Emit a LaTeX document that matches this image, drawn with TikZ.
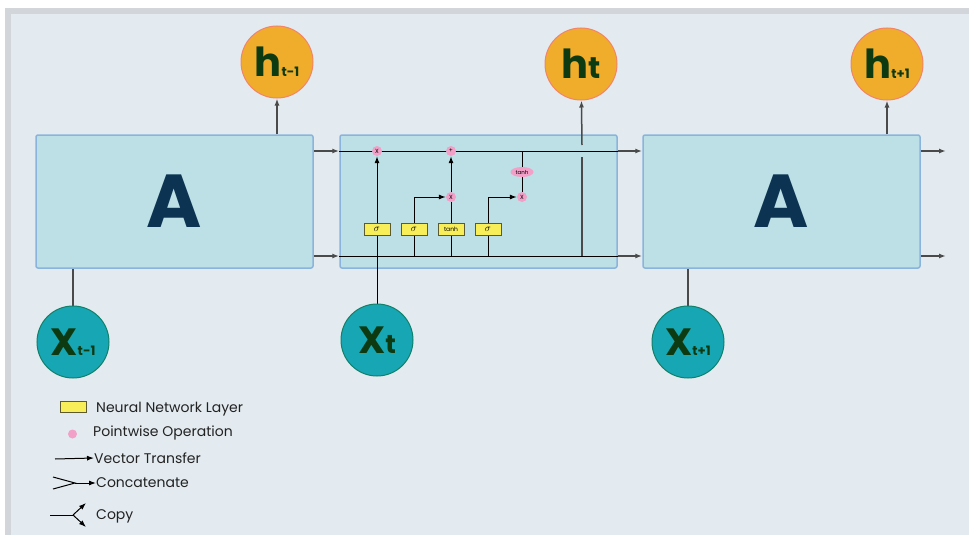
\documentclass[tikz,border=0pt]{standalone}
\usepackage{fontspec}
\setmainfont{Poppins}
\usetikzlibrary{arrows.meta,shapes.geometric}
\definecolor{frameback}{HTML}{E3EBF0}
\definecolor{framegray}{HTML}{D2D6DA}
\definecolor{cellfill}{HTML}{BCE0E6}
\definecolor{cellline}{HTML}{8AB4DC}
\definecolor{hfill}{HTML}{F0AD2C}
\definecolor{hline}{HTML}{F3846B}
\definecolor{xfill}{HTML}{17A6B4}
\definecolor{xline}{HTML}{12806A}
\definecolor{txtgreen}{HTML}{0E3A12}
\definecolor{txtnavy}{HTML}{0C3452}
\definecolor{pwfill}{HTML}{F3A0C8}
\definecolor{layerfill}{HTML}{F8EE5A}
\definecolor{layerline}{HTML}{5E5A30}
\definecolor{linkgray}{HTML}{4A4A4A}
\definecolor{legtxt}{HTML}{222222}
\pgfdeclarelayer{back}
\pgfdeclarelayer{wires}
\pgfsetlayers{back,wires,main}
\tikzset{>={Latex[length=7pt,width=5pt]},
  cellbox/.style={draw=cellline, fill=cellfill, line width=1.5pt, rounded corners=2pt, minimum width=277pt, minimum height=133pt, inner sep=0pt},
  hcirc/.style={circle, draw=hline, fill=hfill, line width=1pt, minimum size=72pt, inner sep=0pt, text=txtgreen, font=\bfseries},
  xcirc/.style={circle, draw=xline, fill=xfill, line width=1pt, minimum size=72pt, inner sep=0pt, text=txtgreen, font=\bfseries},
  nnlayer/.style={draw=layerline, fill=layerfill, line width=0.6pt, minimum width=26pt, minimum height=12pt, inner sep=0pt, font=\fontsize{6}{6}\selectfont},
  siglayer/.style={nnlayer, font=\fontsize{10}{10}\selectfont},
  pw/.style={circle, fill=pwfill, minimum size=10pt, inner sep=0pt, font=\fontsize{6}{6}\selectfont},
  pwell/.style={ellipse, fill=pwfill, minimum width=23pt, minimum height=10pt, inner sep=0pt, font=\fontsize{5.5}{6}\selectfont},
  wire/.style={black, line width=1pt},
  link/.style={linkgray, line width=1.5pt},
  legtext/.style={anchor=west, inner sep=0pt, text=legtxt, font=\fontsize{14}{16}\selectfont}}
\newcommand{\bigh}{\fontsize{40}{40}\selectfont h}
\newcommand{\bigx}{\fontsize{38}{38}\selectfont X}
\newcommand{\smallsub}[1]{\fontsize{13}{13}\selectfont #1}

\begin{document}
\begin{tikzpicture}[x=1pt,y=-1pt]
  \useasboundingbox (0,0) rectangle (969,535);
  \begin{pgfonlayer}{back}
   \fill[frameback] (5,8) rectangle (975,545);
   \draw[framegray,line width=6pt] (8,545) -- (8,11) -- (975,11);
   % the three cells
   \node[cellbox] (A1) at (174.5,201.5) {\fontsize{75}{75}\selectfont\bfseries\color{txtnavy}A};
   \node[cellbox] (M)  at (478.5,201.5) {};
   \node[cellbox] (A3) at (781.5,201.5) {\fontsize{75}{75}\selectfont\bfseries\color{txtnavy}A};
  \end{pgfonlayer}

  % outputs and inputs
  \node[hcirc] (h1) at (277,62) {\bigh\smallsub{t-1}};
  \node[hcirc] (h2) at (581,64) {\bigh\fontsize{30}{30}\selectfont t};
  \node[hcirc] (h3) at (887,64) {\bigh\smallsub{t+1}};
  \node[xcirc] (x1) at (73,342) {\bigx\smallsub{t-1}};
  \node[xcirc] (x2) at (377,340) {\bigx\fontsize{26}{26}\selectfont t};
  \node[xcirc] (x3) at (688,342) {\bigx\smallsub{t+1}};

  % inside the middle cell
  \coordinate (top) at (340,151);
  \coordinate (bot) at (340,256);
  \node[pw] (p1) at (377,151) {X};
  \node[pw] (p2) at (451,151) {+};
  \node[pw] (p3) at (451,197) {X};
  \node[pw] (p4) at (522,197) {X};
  \node[pwell] (th) at (522,172) {tanh};
  \node[siglayer] (l1) at (377,229) {$\sigma$};
  \node[siglayer] (l2) at (414,229) {$\sigma$};
  \node[nnlayer] (l3) at (451,229) {tanh};
  \node[siglayer] (l4) at (488,229) {$\sigma$};
  \coordinate (hb) at (582,256);
  \coordinate (gapb) at (582,157);
  \coordinate (gapt) at (582,145);
  \coordinate (out1) at (946,151);
  \coordinate (out2) at (946,256);

  \begin{pgfonlayer}{wires}
   \draw[link,->] (A1.east |- top) -- (M.west |- top);
   \draw[link,->] (A1.east |- bot) -- (M.west |- bot);
   \draw[wire] (M.west |- top) -- (M.east |- top);
   \draw[wire] (M.west |- bot) -- (M.east |- bot);
   \draw[link,->] (M.east |- top) -- (A3.west |- top);
   \draw[link,->] (M.east |- bot) -- (A3.west |- bot);
   \draw[link,->] (A3.east |- top) -- (out1);
   \draw[link,->] (A3.east |- bot) -- (out2);
   \draw[link,->] (A1.north -| h1) -- (h1);
   \draw[link,->] (A3.north -| h3) -- (h3);
   \draw[link] (x1) -- (x1 |- A1.south);
   \draw[link] (x3) -- (x3 |- A3.south);
   \draw[wire,->] (x2) -- (p1);
   \draw[wire,->] (l2 |- bot) |- (p3);
   \draw[wire] (l3 |- bot) -- (p3);
   \draw[wire,->] (p3) -- (p2);
   \draw[wire,->] (l4 |- bot) |- (p4);
   \draw[wire] (p4) -- (p4 |- top);
   \draw[link] (hb) -- (gapb);
   \draw[link,->] (gapt) -- (h2);
  \end{pgfonlayer}

  % legend
  \node[draw=layerline, fill=layerfill, line width=0.8pt, minimum width=26pt, minimum height=11pt, inner sep=0pt] (lgnn) at (73.5,407) {};
  \node[legtext] (tnn) at (96,409) {Neural Network Layer};
  \node[circle, fill=pwfill, minimum size=9pt, inner sep=0pt] (lgpw) at (72.5,434) {};
  \node[legtext] (tpw) at (93,433) {Pointwise Operation};
  \coordinate (vt) at (55,459);
  \node[legtext] (tvt) at (94,458) {Vector Transfer};
  \draw[black,line width=1pt,->] (vt) -- (tvt.west);
  \coordinate (ca) at (53,477);
  \coordinate (cb) at (53,489);
  \coordinate (cm) at (75,483);
  \node[legtext] (tcc) at (96,483) {Concatenate};
  \draw[black,line width=1pt] (ca) -- (cm) -- (cb);
  \draw[black,line width=1pt,->] (cm) -- (tcc.west);
  \coordinate (ka) at (50,515);
  \coordinate (km) at (73,515);
  \coordinate (ku) at (86,503);
  \coordinate (kd) at (86,527);
  \node[legtext] (tcp) at (96,516) {Copy};
  \draw[black,line width=1pt] (ka) -- (km);
  \draw[black,line width=1pt,->] (km) -- (ku);
  \draw[black,line width=1pt,->] (km) -- (kd);
\end{tikzpicture}
\end{document}
